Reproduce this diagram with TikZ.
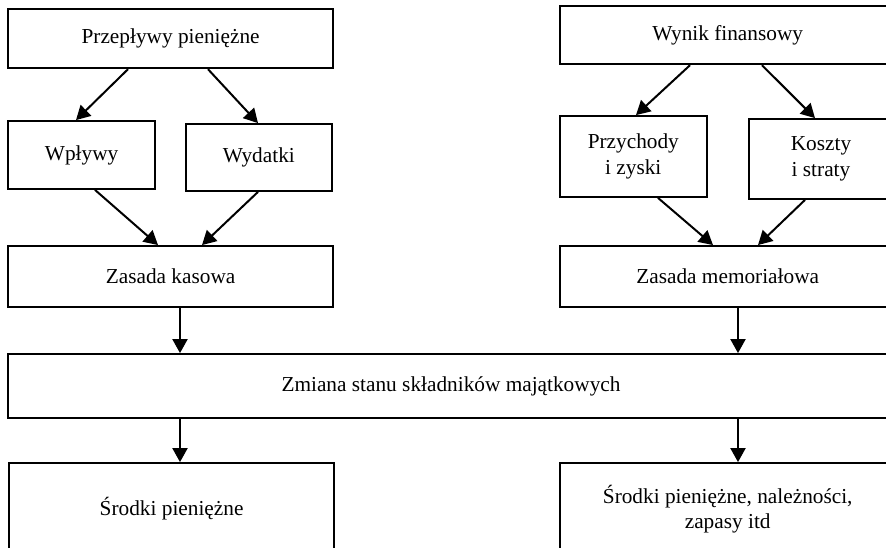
\documentclass[tikz,border=0pt]{standalone}
\usepackage{fontspec}
\setmainfont{Liberation Serif}
\usetikzlibrary{arrows.meta}

\tikzset{
  cadre/.style={draw, line width=1.8pt, rectangle, inner sep=0pt, align=center,
    font=\fontsize{21.3}{25.5}\selectfont},
  fleche/.style={line width=2pt, -{Triangle[length=14pt, width=15pt]}},
}

\begin{document}
\begin{tikzpicture}[x=1pt, y=-1pt]

 \useasboundingbox (0,0) rectangle (886,548) ;
 \clip (0,0) rectangle (886,548) ;

 %%%%%%%%%% Cote kasowy %%%%%%%%%%
 \node [cadre, minimum width=324.7pt, minimum height=59pt] (pp) at (170.6,38.8) {Przepływy pieniężne};
 \node [cadre, minimum width=146.7pt, minimum height=68pt] (wp) at (81.6,155) {Wpływy};
 \node [cadre, minimum width=146.3pt, minimum height=67pt] (wd) at (258.8,157.5) {Wydatki};
 \node [cadre, minimum width=324.7pt, minimum height=60.7pt] (zk) at (170.6,276.3) {Zasada kasowa};

 %%%%%%%%%% Cote memorialowy %%%%%%%%%%
 \node [cadre, minimum width=336pt, minimum height=58.6pt] (wf) at (727.7,35) {Wynik finansowy};
 \node [cadre, minimum width=147.3pt, minimum height=81pt] (pz) at (633.3,156.5) {Przychody\\i zyski};
 \node [cadre, minimum width=144.6pt, minimum height=80pt] (ks) at (821,159) {Koszty\\i straty};
 \node [cadre, minimum width=336pt, minimum height=60.7pt] (zm) at (727.7,276.3) {Zasada memoriałowa};

 %%%%%%%%%% Dol %%%%%%%%%%
 \node [cadre, minimum width=885.4pt, minimum height=64pt] (zs) at (451,386) {Zmiana stanu składników majątkowych};
 \node [cadre, minimum width=324.7pt, minimum height=92pt] (sp) at (171.6,509) {Środki pieniężne};
 \node [cadre, minimum width=336pt, minimum height=92pt] (sn) at (727.7,509) {Środki pieniężne, należności,\\zapasy itd};

 %%%%%%%%%% Strzalki %%%%%%%%%%
 \draw [fleche] ([xshift=-42.6pt]pp.south) -- ([xshift=-5.6pt]wp.north) ;
 \draw [fleche] ([xshift=37.4pt]pp.south) -- ([xshift=-0.8pt]wd.north) ;
 \draw [fleche] ([xshift=13.4pt]wp.south) -- ([xshift=-12.6pt]zk.north) ;
 \draw [fleche] ([xshift=-0.8pt]wd.south) -- ([xshift=31.4pt]zk.north) ;

 \draw [fleche] ([xshift=-37.7pt]wf.south) -- ([xshift=2.7pt]pz.north) ;
 \draw [fleche] ([xshift=34.3pt]wf.south) -- ([xshift=-6pt]ks.north) ;
 \draw [fleche] ([xshift=24.7pt]pz.south) -- ([xshift=-14.7pt]zm.north) ;
 \draw [fleche] ([xshift=-16pt]ks.south) -- ([xshift=30.3pt]zm.north) ;

 \coordinate (kz) at ([xshift=9.4pt]zk.south) ;
 \coordinate (mz) at ([xshift=10.3pt]zm.south) ;
 \draw [fleche] (kz) -- (kz |- zs.north) ;
 \draw [fleche] (mz) -- (mz |- zs.north) ;
 \draw [fleche] (zs.south -| kz) -- (sp.north -| kz) ;
 \draw [fleche] (zs.south -| mz) -- (sn.north -| mz) ;

\end{tikzpicture}
\end{document}
